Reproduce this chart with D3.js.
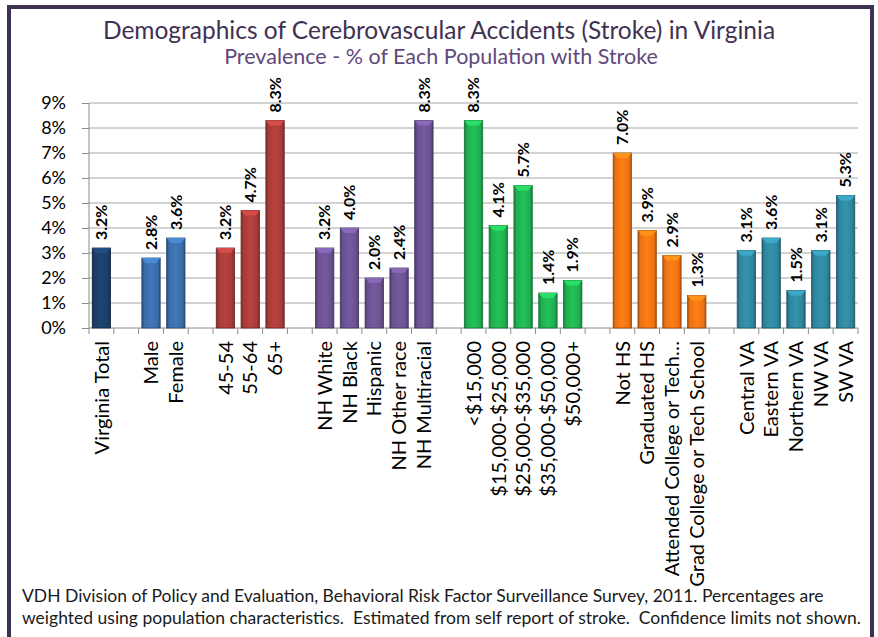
<!DOCTYPE html>
<html>
<head>
<meta charset="utf-8">
<script src="https://cdn.jsdelivr.net/npm/d3@7"></script>
<style>
    body { margin: 0; background: #fff; }
    svg { display: block; font-family: Lato, "Open Sans", sans-serif; }
    .grid line { stroke: #a6a6a6; stroke-width: 1; }
    .axis path, .axis line { stroke: #8c8c8c; }
    .axis text { fill: #000; }
    .value { font-weight: bold; font-size: 16px; fill: #000; }
    .cat { font-size: 20px; fill: #000; }
    .foot { white-space: pre; }
</style>
</head>
<body>
<svg id="chart" width="878" height="637"></svg>
<script>
// blank slots ("") separate the groups, like in the spreadsheet
var categories = [
    "Virginia Total", "",
    "Male", "Female", "",
    "45-54", "55-64", "65+", "",
    "NH White", "NH Black", "Hispanic", "NH Other race", "NH Multiracial", "",
    "<$15,000", "$15,000-$25,000", "$25,000-$35,000", "$35,000-$50,000", "$50,000+", "",
    "Not HS", "Graduated HS", "Attended College or Tech\u2026", "Grad College or Tech School", "",
    "Central VA", "Eastern VA", "Northern VA", "NW VA", "SW VA"
];

var values = [
    3.2, null,
    2.8, 3.6, null,
    3.2, 4.7, 8.3, null,
    3.2, 4.0, 2.0, 2.4, 8.3, null,
    8.3, 4.1, 5.7, 1.4, 1.9, null,
    7.0, 3.9, 2.9, 1.3, null,
    3.1, 3.6, 1.5, 3.1, 5.3
];

var groups = [
    "total", null,
    "sex", "sex", null,
    "age", "age", "age", null,
    "race", "race", "race", "race", "race", null,
    "income", "income", "income", "income", "income", null,
    "edu", "edu", "edu", "edu", null,
    "region", "region", "region", "region", "region"
];

var groupColors = {
    total: "#1c3d66",
    sex: "#3a6ca7",
    age: "#a63b38",
    race: "#6a5190",
    income: "#1fae50",
    edu: "#ee7213",
    region: "#2f849c"
};

var yTicks = [0, 1, 2, 3, 4, 5, 6, 7, 8, 9];

var title = "Demographics of Cerebrovascular Accidents (Stroke) in Virginia",
    subtitle = "Prevalence - % of Each Population with Stroke",
    footnote = [
        "VDH Division of Policy and Evaluation, Behavioral Risk Factor Surveillance Survey, 2011. Percentages are",
        "weighted using population characteristics.  Estimated from self report of stroke.  Confidence limits not shown."
    ];

var svg = d3.select("#chart")
    , margin = {left: 89, right: 20, top: 103, bottom: 309}
    , width = +svg.attr("width") - margin.left - margin.right
    , height = +svg.attr("height") - margin.top - margin.bottom
    ;

// frame
svg.append("rect")
    .attr("x", 9)
    .attr("y", 7)
    .attr("width", 863)
    .attr("height", 650)
    .attr("fill", "#fff")
    .attr("stroke", "#3f3151")
    .attr("stroke-width", 4);

svg.append("text")
    .attr("x", 439)
    .attr("y", 39)
    .attr("text-anchor", "middle")
    .attr("font-size", 24.5)
    .attr("fill", "#3f3151")
    .text(title);

svg.append("text")
    .attr("x", 441)
    .attr("y", 64)
    .attr("text-anchor", "middle")
    .attr("font-size", 21.5)
    .attr("fill", "#5f497a")
    .text(subtitle);

var x = d3.scaleBand()
    .domain(d3.range(categories.length))
    .range([0, width])
    .paddingInner(0.26)
    .paddingOuter(0.13);

var y = d3.scaleLinear()
    .domain([0, 9])
    .range([height, 0]);

var g = svg.append("g")
    .attr("transform", "translate(" + margin.left + "," + margin.top + ")");

// gradients for the bevelled bars
var defs = svg.append("defs");
Object.keys(groupColors).forEach(function(k) {
    var c = d3.color(groupColors[k]);
    var grad = defs.append("linearGradient")
        .attr("id", "grad-" + k)
        .attr("x1", 0).attr("x2", 1).attr("y1", 0).attr("y2", 0);
    [[0, c.darker(0.9)], [0.14, c], [0.5, c.brighter(0.3)], [0.86, c], [1, c.darker(0.9)]]
        .forEach(function(s) {
            grad.append("stop")
                .attr("offset", s[0])
                .attr("stop-color", s[1]);
        });
});

g.append("g")
    .attr("class", "grid")
    .selectAll("line")
    .data(yTicks.slice(1))
    .enter()
    .append("line")
    .attr("x1", 0)
    .attr("x2", width)
    .attr("y1", function(d) { return y(d); })
    .attr("y2", function(d) { return y(d); });

g.append("g")
    .attr("class", "axis axis--y")
    .call(d3.axisLeft(y)
        .tickValues(yTicks)
        .tickSize(7)
        .tickPadding(16)
        .tickFormat(function(d) { return d + "%"; }))
    .call(function(a) {
        a.select(".domain").attr("d", "M0,0V" + height);
        a.selectAll("text").attr("font-size", 18).attr("font-family", "Lato, sans-serif");
    });

// x axis: line plus ticks at slot boundaries
var xAxis = g.append("g")
    .attr("class", "axis axis--x")
    .attr("transform", "translate(0," + height + ")");

xAxis.append("line")
    .attr("x1", 0)
    .attr("x2", width);

xAxis.selectAll("line.tick")
    .data(d3.range(categories.length + 1))
    .enter()
    .append("line")
    .attr("class", "tick")
    .attr("x1", function(i) { return x.range()[0] + i * x.step(); })
    .attr("x2", function(i) { return x.range()[0] + i * x.step(); })
    .attr("y1", 0)
    .attr("y2", 6);

var data = categories.map(function(c, i) {
    return {i: i, name: c, value: values[i], group: groups[i]};
});
var barData = data.filter(function(d) { return d.value != null; });

var bars = g.selectAll("g.bar")
    .data(barData)
    .enter()
    .append("g")
    .attr("class", "bar");

bars.append("rect")
    .attr("x", function(d) { return x(d.i); })
    .attr("y", function(d) { return y(d.value); })
    .attr("width", x.bandwidth())
    .attr("height", function(d) { return height - y(d.value); })
    .attr("fill", function(d) { return "url(#grad-" + d.group + ")"; })
    .attr("stroke", function(d) { return d3.color(groupColors[d.group]).darker(1.2); })
    .attr("stroke-width", 0.8);

// lighter bevel on top of each bar
bars.append("path")
    .attr("d", function(d) {
        var x0 = x(d.i), x1 = x0 + x.bandwidth(), y0 = y(d.value);
        return "M" + x0 + "," + y0 + "L" + x1 + "," + y0 +
            "L" + (x1 - 4) + "," + (y0 + 5) + "L" + (x0 + 4) + "," + (y0 + 5) + "Z";
    })
    .attr("fill", function(d) { return d3.color(groupColors[d.group]).brighter(0.7); });

bars.append("text")
    .attr("class", "value")
    .attr("transform", function(d) {
        return "translate(" + (x(d.i) + x.bandwidth() / 2) + "," + (y(d.value) - 8) + ") rotate(-90)";
    })
    .attr("dy", "0.36em")
    .text(function(d) { return d.value.toFixed(1) + "%"; });

g.selectAll("text.cat")
    .data(data.filter(function(d) { return d.name !== ""; }))
    .enter()
    .append("text")
    .attr("class", "cat")
    .attr("text-anchor", "end")
    .attr("transform", function(d) {
        return "translate(" + (x(d.i) + x.bandwidth() / 2) + "," + (height + 13) + ") rotate(-90)";
    })
    .attr("dy", "0.36em")
    .text(function(d) { return d.name; });

svg.selectAll("text.foot")
    .data(footnote)
    .enter()
    .append("text")
    .attr("class", "foot")
    .attr("x", 22)
    .attr("y", function(d, i) { return 602 + i * 22; })
    .attr("font-size", 17.5)
    .attr("fill", "#1a1a1a")
    .text(function(d) { return d; });
</script>
</body>
</html>
